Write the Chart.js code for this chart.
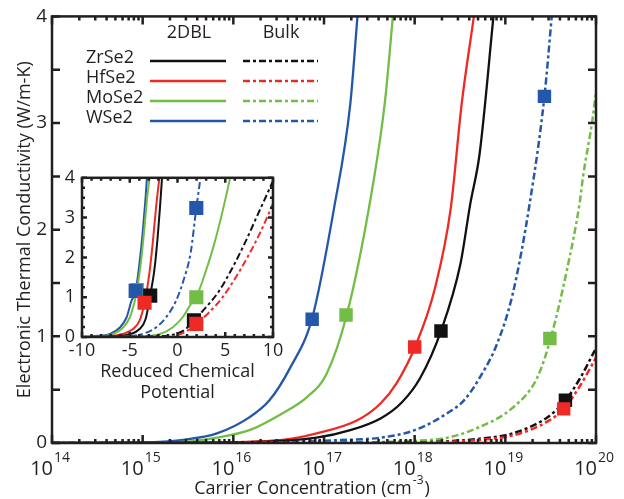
<!DOCTYPE html>
<html>
<head>
<meta charset="utf-8">
<script src="https://cdn.jsdelivr.net/npm/chart.js@4.4.1/dist/chart.umd.min.js"></script>
<style>
  html, body { margin: 0; padding: 0; background: #fff; }
  #wrap { position: relative; width: 624px; height: 499px; }
  #main { position: absolute; left: 0; top: 0; }
  #inset { position: absolute; left: 40px; top: 160px; }
</style>
</head>
<body>
<div id="wrap">
  <canvas id="main" width="624" height="499"></canvas>
  <canvas id="inset" width="250" height="245"></canvas>
</div>
<script>
// main panel: carrier concentration (cm^-3) vs electronic thermal conductivity (W/m-K)
const zrDblConc = [1e14, 1e16, 8.3e16, 1.95e17, 4.2e17, 7.2e17, 1.15e18, 1.95e18, 3.2e18, 4.1e18, 5.2e18, 7.4e18]
const zrDblKappa = [0, 0.005, 0.05, 0.12, 0.23, 0.38, 0.61, 1.05, 1.68, 2.24, 2.71, 4.0]
const hfDblConc = [1e14, 3e15, 3.5e16, 8.3e16, 2.3e17, 4.2e17, 6.3e17, 1.02e18, 1.66e18, 2.5e18, 3.3e18, 4.5e18]
const hfDblKappa = [0, 0.003, 0.03, 0.09, 0.21, 0.37, 0.56, 0.91, 1.44, 2.2, 3.18, 4.0]
const moDblConc = [1e14, 1e15, 2.8e15, 6.6e15, 1.5e16, 3.5e16, 6.5e16, 1.07e17, 1.78e17, 3.2e17, 4.7e17, 5.75e17]
const moDblKappa = [0, 0.003, 0.01, 0.05, 0.12, 0.28, 0.43, 0.65, 1.2, 2.25, 3.2, 4.0]
const wDblConc = [1e14, 1e15, 2.8e15, 6.6e15, 1.5e16, 2.5e16, 4.2e16, 7.4e16, 1.29e17, 1.95e17, 2.34e17]
const wDblKappa = [0, 0.005, 0.03, 0.09, 0.24, 0.4, 0.7, 1.17, 2.2, 3.18, 4.0]

const zrBulkConc = [1e14, 1e17, 1e18, 5.2e18, 1.2e19, 2.9e19, 4.6e19, 6.6e19, 1e20]
const zrBulkKappa = [0, 0, 0.005, 0.04, 0.09, 0.24, 0.4, 0.6, 0.89]
const hfBulkConc = [1e14, 1e17, 1e18, 5.2e18, 1.2e19, 2.9e19, 4.4e19, 6.6e19, 1e20]
const hfBulkKappa = [0, 0, 0.003, 0.03, 0.07, 0.2, 0.32, 0.53, 0.8]
const moBulkConc = [1e14, 1e17, 9.5e17, 2.3e18, 5.2e18, 1.2e19, 2.24e19, 3.16e19, 4.8e19, 6.6e19, 7.2e19, 9.1e19, 1e20]
const moBulkKappa = [0, 0.005, 0.02, 0.05, 0.15, 0.33, 0.61, 0.98, 1.63, 2.25, 2.5, 3.02, 3.29]
const wBulkConc = [1e14, 1e16, 5.4e16, 1.26e17, 4.2e17, 1e18, 2.3e18, 3.5e18, 5.2e18, 8.1e18, 1.2e19, 1.86e19, 2.7e19, 3.25e19]
const wBulkKappa = [0, 0.003, 0.01, 0.025, 0.05, 0.12, 0.28, 0.4, 0.61, 0.93, 1.39, 2.25, 3.25, 4.0]

// square markers: [2DBL, Bulk] for each material
const zrMarks = [[1.95e18, 1.05], [4.6e19, 0.4]]
const hfMarks = [[1.0e18, 0.9], [4.4e19, 0.32]]
const moMarks = [[1.75e17, 1.2], [3.1e19, 0.98]]
const wMarks = [[7.4e16, 1.16], [2.7e19, 3.25]]

// inset: reduced chemical potential vs electronic thermal conductivity
const zrDblEta = [-10, -6.38, -5.0, -3.97, -3.34, -2.86, -2.41, -2.07, -1.83, -1.62]
const zrDblK = [0, 0.02, 0.07, 0.2, 0.45, 1.04, 1.71, 2.53, 3.27, 4.0]
const hfDblEta = [-10, -7.07, -5.69, -4.66, -3.97, -3.45, -2.93, -2.59, -2.24, -1.9]
const hfDblK = [0, 0.02, 0.08, 0.2, 0.41, 0.86, 1.63, 2.37, 3.27, 4.0]
const moDblEta = [-10, -8.1, -6.72, -5.69, -5.0, -4.48, -4.24, -3.79, -3.45, -3.17, -2.93]
const moDblK = [0, 0.02, 0.08, 0.24, 0.49, 0.9, 1.18, 1.96, 2.78, 3.51, 4.0]
const wDblEta = [-10, -8.8, -7.07, -6.03, -5.34, -4.83, -4.38, -3.97, -3.62, -3.34, -3.2]
const wDblK = [0, 0.02, 0.08, 0.24, 0.49, 0.9, 1.16, 1.88, 2.69, 3.51, 4.0]

const zrBulkEta = [-10, -1.9, -0.17, 0.86, 1.72, 2.93, 4.31, 5.69, 7.07, 8.45, 10]
const zrBulkK = [0, 0.02, 0.08, 0.2, 0.42, 0.73, 1.14, 1.71, 2.37, 3.1, 3.92]
const hfBulkEta = [-10, -1.9, -0.17, 1.03, 1.97, 3.28, 4.66, 6.03, 7.41, 8.79, 10]
const hfBulkK = [0, 0, 0.04, 0.16, 0.33, 0.61, 0.98, 1.47, 2.04, 2.69, 3.35]
const moBulkEta = [-10, -3.62, -1.9, -0.52, 0.52, 1.38, 1.97, 2.93, 3.79, 4.66, 5.52]
const moBulkK = [0, 0.02, 0.07, 0.24, 0.49, 0.82, 1.0, 1.63, 2.29, 3.1, 4.0]
const wBulkEta = [-10, -5.34, -3.62, -2.24, -1.21, -0.17, 0.69, 1.38, 1.97, 2.17, 2.41]
const wBulkK = [0, 0.02, 0.08, 0.24, 0.49, 0.9, 1.47, 2.12, 3.24, 3.59, 4.0]

const zrInsetMarks = [[-2.86, 1.04], [1.72, 0.42]]
const hfInsetMarks = [[-3.45, 0.86], [1.97, 0.33]]
const moInsetMarks = [[-4.24, 1.18], [1.97, 1.0]]
const wInsetMarks = [[-4.38, 1.16], [1.97, 3.24]]

const materials = ['ZrSe2', 'HfSe2', 'MoSe2', 'WSe2']
const columnTitles = ['2DBL', 'Bulk']
const decades = [14, 15, 16, 17, 18, 19, 20]

const colors = { ZrSe2: '#111111', HfSe2: '#ee2a25', MoSe2: '#71bd45', WSe2: '#2457a9' }
const dashDot = [7, 3, 3, 3]
const ink = '#231f20'
const fontFamily = "'Open Sans', 'Noto Sans', sans-serif"

Chart.defaults.font.family = fontFamily
Chart.defaults.color = ink

const zip = (xs, ys) => xs.map((x, i) => ({ x, y: ys[i] }))

const curve = (label, xs, ys, color, bulk, width, order) => ({
  label,
  data: zip(xs, ys),
  borderColor: color,
  borderWidth: width,
  borderDash: bulk ? dashDot : [],
  pointRadius: 0,
  fill: false,
  cubicInterpolationMode: 'monotone',
  order
})

const marker = (point, color, radius, order) => ({
  data: [{ x: point[0], y: point[1] }],
  showLine: false,
  pointStyle: 'rect',
  pointRadius: radius,
  pointBackgroundColor: color,
  pointBorderColor: color,
  pointBorderWidth: 0,
  order
})

const drawFrame = (chart, xTicks, yTicks, width) => {
  const { ctx, chartArea: a, scales: { x, y } } = chart
  ctx.save()
  ctx.strokeStyle = ink
  ctx.lineWidth = width
  ctx.beginPath()
  xTicks.forEach(([v, len]) => {
    const px = x.getPixelForValue(v)
    ctx.moveTo(px, a.bottom)
    ctx.lineTo(px, a.bottom - len)
    ctx.moveTo(px, a.top)
    ctx.lineTo(px, a.top + len)
  })
  yTicks.forEach(([v, len]) => {
    const py = y.getPixelForValue(v)
    ctx.moveTo(a.left, py)
    ctx.lineTo(a.left + len, py)
    ctx.moveTo(a.right, py)
    ctx.lineTo(a.right - len, py)
  })
  ctx.stroke()
  ctx.strokeRect(a.left, a.top, a.right - a.left, a.bottom - a.top)
  ctx.restore()
}

const mainXTicks = []
decades.forEach((e) => {
  if (e === 20) {
    mainXTicks.push([1e20, 8])
    return
  }
  for (let m = 1; m <= 9; m++) mainXTicks.push([m * 10 ** e, m === 1 ? 8 : 4])
})
const mainYTicks = [0, 0.5, 1, 1.5, 2, 2.5, 3, 3.5, 4].map((v) => [v, 8])

const mainDecorations = {
  id: 'mainDecorations',
  afterDraw (chart) {
    const { ctx, chartArea: a, scales: { x } } = chart
    drawFrame(chart, mainXTicks, mainYTicks, 2.5)

    ctx.save()
    ctx.fillStyle = ink
    ctx.textBaseline = 'alphabetic'
    decades.forEach((e) => {
      const px = x.getPixelForValue(10 ** e)
      ctx.font = `20px ${fontFamily}`
      ctx.textAlign = 'right'
      ctx.fillText('10', px + 1, a.bottom + 32)
      ctx.font = `14px ${fontFamily}`
      ctx.textAlign = 'left'
      ctx.fillText(String(e), px + 2, a.bottom + 19)
    })

    // axis title with superscript
    const base = 'Carrier Concentration (cm'
    const sup = '-3'
    ctx.font = `18px ${fontFamily}`
    const wBase = ctx.measureText(base).width
    const wClose = ctx.measureText(')').width
    ctx.font = `12px ${fontFamily}`
    const wSup = ctx.measureText(sup).width
    let tx = (a.left + a.right) / 2 - 13 - (wBase + wSup + wClose) / 2
    ctx.textAlign = 'left'
    ctx.font = `18px ${fontFamily}`
    ctx.fillText(base, tx, 494)
    tx += wBase
    ctx.font = `12px ${fontFamily}`
    ctx.fillText(sup, tx + 1, 484)
    tx += wSup + 2
    ctx.font = `18px ${fontFamily}`
    ctx.fillText(')', tx, 494)

    // legend block
    ctx.textAlign = 'center'
    ctx.textBaseline = 'middle'
    ctx.fillText(columnTitles[0], 189, 33)
    ctx.fillText(columnTitles[1], 281, 33)
    materials.forEach((name, i) => {
      const ly = 61 + i * 20
      ctx.textAlign = 'left'
      ctx.fillStyle = ink
      ctx.fillText(name, 86, ly - 3)
      ctx.strokeStyle = colors[name]
      ctx.lineWidth = 2.5
      ctx.setLineDash([])
      ctx.beginPath()
      ctx.moveTo(150, ly)
      ctx.lineTo(226, ly)
      ctx.stroke()
      ctx.setLineDash(dashDot)
      ctx.beginPath()
      ctx.moveTo(243, ly)
      ctx.lineTo(318, ly)
      ctx.stroke()
    })
    ctx.restore()
  }
}

new Chart(document.getElementById('main'), {
  type: 'line',
  data: {
    datasets: [
      marker(hfMarks[1], colors.HfSe2, 9.5, 0),
      marker(zrMarks[1], colors.ZrSe2, 9.5, 1),
      marker(moMarks[1], colors.MoSe2, 9.5, 1),
      marker(wMarks[1], colors.WSe2, 9.5, 1),
      marker(zrMarks[0], colors.ZrSe2, 9.5, 1),
      marker(hfMarks[0], colors.HfSe2, 9.5, 1),
      marker(moMarks[0], colors.MoSe2, 9.5, 1),
      marker(wMarks[0], colors.WSe2, 9.5, 1),
      curve('ZrSe2 Bulk', zrBulkConc, zrBulkKappa, colors.ZrSe2, true, 2.5, 3),
      curve('HfSe2 Bulk', hfBulkConc, hfBulkKappa, colors.HfSe2, true, 2.5, 2),
      curve('MoSe2 Bulk', moBulkConc, moBulkKappa, colors.MoSe2, true, 2.5, 4),
      curve('WSe2 Bulk', wBulkConc, wBulkKappa, colors.WSe2, true, 2.5, 4),
      curve('ZrSe2 2DBL', zrDblConc, zrDblKappa, colors.ZrSe2, false, 2.3, 5),
      curve('HfSe2 2DBL', hfDblConc, hfDblKappa, colors.HfSe2, false, 2.3, 5),
      curve('MoSe2 2DBL', moDblConc, moDblKappa, colors.MoSe2, false, 2.3, 5),
      curve('WSe2 2DBL', wDblConc, wDblKappa, colors.WSe2, false, 2.3, 5)
    ]
  },
  options: {
    responsive: false,
    animation: false,
    devicePixelRatio: 1,
    layout: { padding: { left: 0, top: 10, right: 28, bottom: 0 } },
    plugins: { legend: { display: false }, tooltip: { enabled: false } },
    scales: {
      x: {
        type: 'logarithmic',
        min: 1e14,
        max: 1e20,
        grid: { display: false, drawTicks: false },
        border: { display: false },
        ticks: { display: false },
        afterFit: (s) => { s.height = 56 }
      },
      y: {
        min: 0,
        max: 4,
        grid: { display: false, drawTicks: false },
        border: { display: false },
        ticks: {
          stepSize: 0.5,
          padding: 5,
          font: { size: 19 },
          callback: (v) => (Number.isInteger(v) ? String(v) : '')
        },
        title: {
          display: true,
          text: 'Electronic Thermal Conductivity (W/m-K)',
          font: { size: 18 },
          padding: { top: 14, bottom: 0 }
        },
        afterFit: (s) => { s.width = 52 }
      }
    }
  },
  plugins: [mainDecorations]
})

const insetXTicks = []
for (let v = -10; v <= 10; v++) insetXTicks.push([v, v % 5 === 0 ? 5 : 3])
const insetYTicks = []
for (let v = 0; v <= 4; v += 0.25) insetYTicks.push([v, Number.isInteger(v) ? 5 : 3])

const insetDecorations = {
  id: 'insetDecorations',
  beforeDraw (chart) {
    const { ctx, chartArea: a } = chart
    ctx.save()
    ctx.fillStyle = '#fff'
    ctx.fillRect(a.left, a.top, a.right - a.left, a.bottom - a.top)
    ctx.restore()
  },
  afterDraw (chart) {
    drawFrame(chart, insetXTicks, insetYTicks, 2.5)
  }
}

new Chart(document.getElementById('inset'), {
  type: 'line',
  data: {
    datasets: [
      marker(hfInsetMarks[1], colors.HfSe2, 10, 0),
      marker(zrInsetMarks[1], colors.ZrSe2, 10, 1),
      marker(moInsetMarks[1], colors.MoSe2, 10, 1),
      marker(wInsetMarks[1], colors.WSe2, 10, 1),
      marker(hfInsetMarks[0], colors.HfSe2, 10, 0),
      marker(zrInsetMarks[0], colors.ZrSe2, 10, 1),
      marker(wInsetMarks[0], colors.WSe2, 10, 1),
      marker(moInsetMarks[0], colors.MoSe2, 10, 2),
      curve('ZrSe2 Bulk', zrBulkEta, zrBulkK, colors.ZrSe2, true, 2, 4),
      curve('HfSe2 Bulk', hfBulkEta, hfBulkK, colors.HfSe2, true, 2, 3),
      curve('MoSe2 Bulk', moBulkEta, moBulkK, colors.MoSe2, false, 2, 5),
      curve('WSe2 Bulk', wBulkEta, wBulkK, colors.WSe2, true, 2, 5),
      curve('ZrSe2 2DBL', zrDblEta, zrDblK, colors.ZrSe2, false, 2, 5),
      curve('HfSe2 2DBL', hfDblEta, hfDblK, colors.HfSe2, false, 2, 5),
      curve('MoSe2 2DBL', moDblEta, moDblK, colors.MoSe2, false, 2, 5),
      curve('WSe2 2DBL', wDblEta, wDblK, colors.WSe2, false, 2, 5)
    ]
  },
  options: {
    responsive: false,
    animation: false,
    devicePixelRatio: 1,
    layout: { padding: { left: 0, top: 13, right: 17, bottom: 0 } },
    plugins: { legend: { display: false }, tooltip: { enabled: false } },
    scales: {
      x: {
        type: 'linear',
        min: -10,
        max: 10,
        grid: { display: false, drawTicks: false },
        border: { display: false },
        ticks: { stepSize: 5, padding: 3, maxRotation: 0, font: { size: 18 } },
        title: {
          display: true,
          text: ['Reduced Chemical', 'Potential'],
          font: { size: 18, lineHeight: 1.2 },
          padding: { top: 0, bottom: 1 }
        },
        afterFit: (s) => { s.height = 68 }
      },
      y: {
        min: 0,
        max: 4,
        grid: { display: false, drawTicks: false },
        border: { display: false },
        ticks: { stepSize: 1, padding: 7, font: { size: 18 } },
        afterFit: (s) => { s.width = 42 }
      }
    }
  },
  plugins: [insetDecorations]
})
</script>
</body>
</html>
